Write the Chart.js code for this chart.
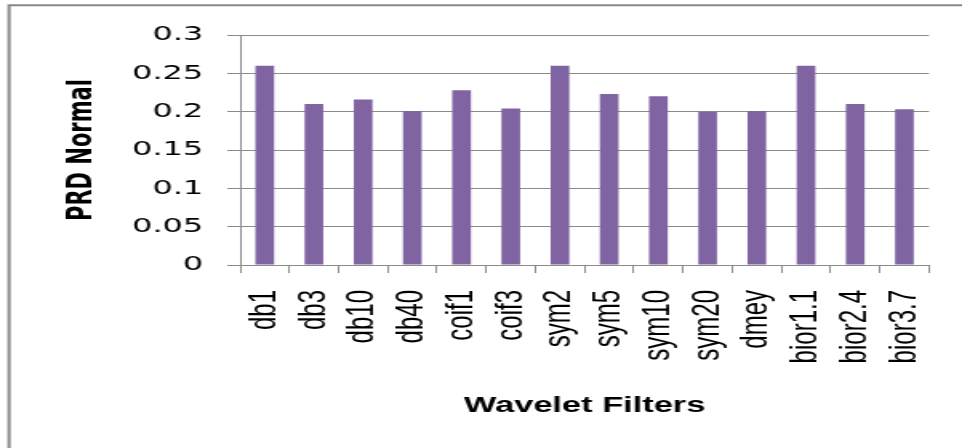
<!DOCTYPE html>
<html>
<head>
<meta charset="utf-8">
<script src="https://cdn.jsdelivr.net/npm/chart.js@4/dist/chart.umd.min.js"></script>
<style>
  html, body { margin: 0; padding: 0; background: #fff; overflow: hidden; }
  /* the chart is laid out narrow and widened horizontally */
  #wrap { position: absolute; left: 0; top: 0; width: 601px; height: 448px;
          transform-origin: 0 0; transform: scaleX(1.6007); }
  canvas { display: block; }
</style>
</head>
<body>
<div id="wrap"><canvas id="c" width="601" height="448" style="width:601px;height:448px"></canvas></div>
<script>
// Wavelet filters and their normalised PRD
const categories = ['db1', 'db3', 'db10', 'db40', 'coif1', 'coif3', 'sym2', 'sym5',
                    'sym10', 'sym20', 'dmey', 'bior1.1', 'bior2.4', 'bior3.7'];
const prdNormal = [0.260, 0.210, 0.216, 0.201, 0.228, 0.204, 0.260, 0.223,
                   0.220, 0.200, 0.201, 0.260, 0.210, 0.203];
const yTickLabels = ['0', '0.05', '0.1', '0.15', '0.2', '0.25', '0.3'];
const yTitle = 'PRD Normal';
const xTitle = 'Wavelet Filters';

const gridGray = '#8c8c8c';

// outer chart frame (top and left edges)
const framePlugin = {
  id: 'frame',
  beforeDraw(chart) {
    const ctx = chart.ctx;
    ctx.save();
    ctx.strokeStyle = '#888888';
    ctx.lineWidth = 2;
    ctx.beginPath();
    ctx.moveTo(5.6, 448);
    ctx.lineTo(5.6, 5.2);
    ctx.lineTo(601, 5.2);
    ctx.stroke();
    ctx.restore();
  }
};

new Chart(document.getElementById('c'), {
  type: 'bar',
  data: {
    labels: categories,
    datasets: [{
      data: prdNormal,
      backgroundColor: '#8064A2',
      borderWidth: 0,
      barPercentage: 0.38,
      categoryPercentage: 1.0
    }]
  },
  options: {
    responsive: false,
    animation: false,
    events: [],
    layout: { padding: { top: 35, right: 20.6, bottom: 0, left: 0 } },
    plugins: { legend: { display: false }, tooltip: { enabled: false }, title: { display: false } },
    scales: {
      x: {
        offset: true,
        grid: { offset: true, drawOnChartArea: false, drawTicks: true, tickLength: 8,
                color: gridGray, lineWidth: 1 },
        border: { display: true, color: gridGray, width: 1 },
        ticks: {
          autoSkip: false, minRotation: 90, maxRotation: 90, padding: 17,
          color: '#000', font: { family: 'Liberation Sans', size: 24 }
        },
        title: {
          display: true, text: xTitle, color: '#000',
          font: { family: 'Liberation Sans', size: 21.5, weight: 'bold' },
          padding: { top: 0, bottom: 29 }
        },
        afterFit(scale) {
          scale.height = 183;
          scale.paddingLeft = 0;
          scale.paddingRight = 0;
        }
      },
      y: {
        min: 0, max: 0.3,
        grid: { drawTicks: true, tickLength: 8, color: gridGray, lineWidth: 1 },
        border: { display: true, color: gridGray, width: 1 },
        ticks: {
          stepSize: 0.05, padding: 15, color: '#000',
          font: { family: 'DejaVu Sans', size: 20 },
          callback: (v, i) => yTickLabels[i]
        },
        title: {
          display: true, text: yTitle, color: '#000',
          font: { family: 'DejaVu Sans', size: 21, weight: 'bold' },
          padding: { top: 39, bottom: 0 }
        },
        afterFit(scale) { scale.width = 150; }
      }
    }
  },
  plugins: [framePlugin]
});
</script>
</body>
</html>
